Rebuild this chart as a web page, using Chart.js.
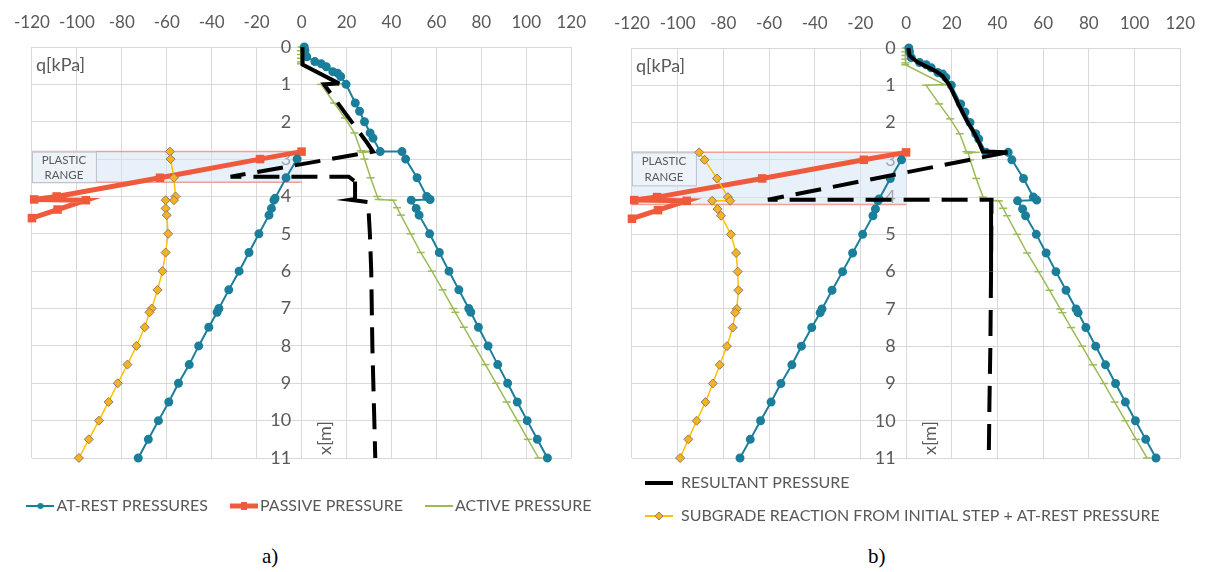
<!DOCTYPE html>
<html>
<head>
<meta charset="utf-8">
<script src="https://cdn.jsdelivr.net/npm/chart.js@4.4.1/dist/chart.umd.min.js"></script>
<style>
  body { margin: 0; background: #fff; width: 1209px; height: 572px; position: relative; overflow: hidden; }
  #wrapA { position: absolute; left: 0; top: 0; width: 600px; height: 540px; }
  #wrapB { position: absolute; left: 600px; top: 0; width: 609px; height: 540px; }
  .cap { position: absolute; top: 544px; font-family: "Liberation Serif", serif; font-size: 21px; color: #000; }
</style>
</head>
<body>
<div id="wrapA"><canvas id="chartA"></canvas></div>
<div id="wrapB"><canvas id="chartB"></canvas></div>
<div class="cap" style="left:262px">a)</div>
<div class="cap" style="left:868px">b)</div>
<script>
// depth x[m] and pressure q[kPa]
var atRestDepth = [0, 0.1, 0.26, 0.39, 0.45, 0.53, 0.66, 0.7, 0.79, 1.0, 1.5, 1.72, 2.0, 2.3, 2.44, 2.8, 2.8, 3.0, 3.5, 4.0, 4.08, 4.1, 4.32, 4.5, 5.0, 5.5, 6.0, 6.5, 7.0, 7.1, 7.5, 8.0, 8.5, 9.0, 9.5, 10.0, 10.5, 11.0];
var atRestQ = [1.2, 1.5, 2.3, 5.9, 8.8, 11, 13.9, 16, 17.4, 19.8, 23.9, 25.8, 28, 30.5, 31.8, 35, 44.7, 46.3, 51.4, 55.7, 57.2, 48.8, 51, 52.3, 57, 61.3, 65.6, 70, 74.4, 75.3, 78.7, 83, 87.3, 91.7, 96, 100.4, 104.9, 109.4];

var atRestLeftDepth = [3.0, 3.5, 4.05, 4.1, 4.32, 4.5, 5.0, 5.5, 6.0, 6.5, 7.0, 7.1, 7.5, 8.0, 8.5, 9.0, 9.5, 10.0, 10.5, 11.0];
var atRestLeftQ = [-2, -6.9, -11.8, -12.3, -13.4, -14.5, -19, -23.4, -27.8, -32.4, -36.8, -37.6, -41.3, -45.8, -50, -54.8, -59.1, -63.7, -68.2, -72.7];

var activeDepth = [0, 0.1, 0.2, 0.3, 0.4, 0.45, 0.98, 1.0, 1.5, 1.9, 2.3, 2.78, 2.8, 2.82, 3.0, 3.5, 4.0, 4.08, 4.1, 4.3, 4.5, 5.0, 5.5, 6.0, 6.5, 7.0, 7.1, 7.5, 8.0, 8.5, 9.0, 9.5, 10.0, 10.5, 11.0];
var activeQ = [0, -0.3, -0.3, -0.3, -0.3, -0.3, 16.8, 8.7, 14.5, 19.3, 23.5, 26.4, 30.5, 27.2, 28, 30.7, 33.7, 34.3, 40.6, 42.5, 44.2, 48.6, 53, 58, 62.8, 67.5, 68.4, 72.2, 77, 81.8, 86.6, 91.3, 96, 100.7, 105.5];

var passiveDepth = [2.8, 3.0, 3.5, 4.0, 4.08, 4.1, 4.35, 4.58];
var passiveQ = [0, -18.5, -63, -109, -119, -96, -108.6, -120];

var resultantADepth = [0, 0.47, 0.98, 1.0, 2.55, 2.8, 3.47, 3.47, 3.6, 4.07, 4.09, 4.15, 5.0, 6.0, 8.0, 9.6, 11.0];
var resultantAQ = [0.4, 0.4, 16.8, 10, 29, 31.8, -31.6, 21, 23.8, 23.8, 21.7, 29.6, 30.4, 31, 31.5, 32.2, 32.8];

var resultantBDepth = [0, 0.2, 0.38, 0.5, 0.62, 0.75, 1.0, 1.5, 1.93, 2.3, 2.55, 2.78, 2.8, 4.07, 4.07, 6.0, 8.0, 9.5, 11.0];
var resultantBQ = [1, 1.5, 5, 9, 13, 16, 19, 22.8, 26.4, 30, 32, 33.6, 44.4, -60.5, 37.4, 37.2, 36.9, 36.5, 36.2];

var subgradeDepth = [2.8, 3.0, 3.5, 4.0, 4.1, 4.1, 4.32, 4.5, 5.0, 5.5, 6.0, 6.5, 7.0, 7.1, 7.5, 8.0, 8.5, 9.0, 9.5, 10.0, 10.5, 11.0];
var subgradeAQ = [-58.6, -58.3, -56.8, -56.1, -56.8, -60.5, -60.5, -60, -59.4, -60.5, -61.9, -64.1, -66.7, -67.7, -69.8, -73.5, -77.5, -81.8, -85.9, -90.2, -94.7, -99.1];
var subgradeBQ = [-90.6, -88.2, -82.8, -78, -77, -84.9, -82.5, -81, -76.7, -74.4, -73.7, -73.4, -74.1, -74.8, -75.9, -78.4, -81.6, -84.6, -87.8, -91.7, -95.3, -98.9];

// plastic range (depth from / to) for each panel
var plasticA = [2.8, 3.62];
var plasticB = [2.8, 4.2];

var qTicks = [-120, 120, 20];
var depthTicks = [0, 11, 1];

var TEAL = '#1b7f9b', GREEN = '#9bbb59', RED = '#f05a3c', GOLD = '#ffc000', GREY = '#595959';

Chart.defaults.font.family = 'Lato, "Open Sans", sans-serif';

function pts(q, d) {
    return q.map(function (v, i) { return { x: v, y: d[i] }; });
}

// little legend samples: line + marker, like the spreadsheet legend
function sample(color, lw, marker) {
    var c = document.createElement('canvas');
    c.width = 28; c.height = 12;
    var g = c.getContext('2d');
    g.strokeStyle = color; g.lineWidth = lw;
    g.beginPath(); g.moveTo(0, 6); g.lineTo(28, 6); g.stroke();
    if (marker == 'circle') {
        g.fillStyle = color; g.beginPath(); g.arc(14, 6, 3, 0, Math.PI * 2); g.fill();
    } else if (marker == 'diamond') {
        g.fillStyle = '#f5b324'; g.strokeStyle = '#8c7b6b'; g.lineWidth = 1;
        g.beginPath(); g.moveTo(14, 2); g.lineTo(18, 6); g.lineTo(14, 10); g.lineTo(10, 6); g.closePath();
        g.fill(); g.stroke();
    } else if (marker == 'rect') {
        g.fillStyle = color; g.fillRect(11, 2, 6, 8);
    }
    return c;
}

var samples = {
    'AT-REST PRESSURES': sample(TEAL, 2, 'circle'),
    'PASSIVE PRESSURE': sample(RED, 5, 'rect'),
    'ACTIVE PRESSURE': sample(GREEN, 2),
    'RESULTANT PRESSURE': sample('#000', 4),
    'SUBGRADE REACTION FROM INITIAL STEP + AT-REST PRESSURE': sample(GOLD, 2, 'diamond')
};

function makeDatasets(resQ, resD, solidUpTo, subQ) {
    return [
        { label: 'AT-REST PRESSURES', data: pts(atRestQ, atRestDepth), borderColor: TEAL, backgroundColor: TEAL,
          borderWidth: 2, pointStyle: 'circle', pointRadius: 3.5, order: 3 },
        { label: 'at-rest (left)', data: pts(atRestLeftQ, atRestLeftDepth), borderColor: TEAL, backgroundColor: TEAL,
          borderWidth: 2, pointStyle: 'circle', pointRadius: 3.5, order: 3 },
        { label: 'PASSIVE PRESSURE', data: pts(passiveQ, passiveDepth), borderColor: RED, backgroundColor: RED,
          borderWidth: 5, pointStyle: 'rect', pointRadius: 2.5, order: 5 },
        { label: 'ACTIVE PRESSURE', data: pts(activeQ, activeDepth), borderColor: GREEN, backgroundColor: GREEN,
          borderWidth: 1.5, pointStyle: 'line', pointRadius: 4, pointBorderWidth: 1.5, order: 4 },
        { label: 'RESULTANT PRESSURE', data: pts(resQ, resD), borderColor: '#000', backgroundColor: '#000',
          borderWidth: 4, pointRadius: 0, order: 1,
          segment: { borderDash: function (c) { return c.p0DataIndex < solidUpTo ? [] : [26, 12]; } } },
        { label: 'SUBGRADE REACTION FROM INITIAL STEP + AT-REST PRESSURE', data: pts(subQ, subgradeDepth),
          borderColor: GOLD, backgroundColor: GOLD, borderWidth: 1.5, pointStyle: 'rectRot', pointRadius: 4.5,
          pointBackgroundColor: '#f5b324', pointBorderColor: '#8c7b6b', pointBorderWidth: 1, order: 2 }
    ];
}

// plastic range band, its label box and the axis captions
var extras = {
    id: 'extras',
    beforeDatasetsDraw: function (chart, args, o) {
        var ctx = chart.ctx, x = chart.scales.x, y = chart.scales.y;
        var x0 = x.getPixelForValue(qTicks[0]), x1 = x.getPixelForValue(0);
        var y0 = y.getPixelForValue(o.band[0]), y1 = y.getPixelForValue(o.band[1]);
        ctx.save();
        ctx.fillStyle = 'rgba(214,230,245,0.55)';
        ctx.fillRect(x0, y0, x1 - x0, y1 - y0);
        ctx.strokeStyle = '#f0a096'; ctx.lineWidth = 1.5;
        ctx.beginPath();
        ctx.moveTo(x0, y0); ctx.lineTo(x1, y0);
        ctx.moveTo(x0, y1); ctx.lineTo(x1, y1);
        ctx.stroke();
        var bh = Math.min(y1 - y0, 33);
        ctx.fillStyle = '#eef3f9'; ctx.strokeStyle = '#b8c4d0'; ctx.lineWidth = 1;
        ctx.fillRect(x0, y0, 64, bh);
        ctx.strokeRect(x0 + 0.5, y0 + 0.5, 64, bh);
        ctx.fillStyle = GREY; ctx.font = '11.5px Lato'; ctx.textAlign = 'center'; ctx.textBaseline = 'middle';
        ctx.fillText('PLASTIC', x0 + 32, y0 + bh * 0.27);
        ctx.fillText('RANGE', x0 + 32, y0 + bh * 0.77);
        ctx.textAlign = 'left';
        ctx.font = '18px Lato';
        ctx.fillText('q[kPa]', chart.chartArea.left + 4, y.getPixelForValue(0.5));
        ctx.translate(x.getPixelForValue(0) + 24, chart.chartArea.bottom - 20);
        ctx.rotate(-Math.PI / 2);
        ctx.textAlign = 'center';
        ctx.fillText('x[m]', 0, 0);
        ctx.restore();
    }
};

// let a one-row legend run wider than the plot area, as the spreadsheet does
var wideLegend = {
    id: 'wideLegend',
    beforeInit: function (chart) {
        var legend = chart.legend, fit = legend.fit, draw = legend.draw;
        legend.fit = function () {
            var mw = this.maxWidth;
            this.maxWidth = chart.width + 60;
            fit.call(this);
            this.maxWidth = mw;
            this.width = mw;
        };
        legend.draw = function () {
            var l = this.left, r = this.right;
            this.left = 0; this.right = chart.width + 24;
            draw.call(this);
            this.left = l; this.right = r;
        };
    }
};

function makeChart(id, o) {
    return new Chart(document.getElementById(id), {
        type: 'scatter',
        data: { datasets: makeDatasets(o.resQ, o.resD, o.solidUpTo, o.subQ) },
        plugins: o.wide ? [extras, wideLegend] : [extras],
        options: {
            responsive: true,
            maintainAspectRatio: false,
            animation: false,
            events: [],
            showLine: true,
            clip: false,
            layout: { padding: o.padding },
            elements: { line: { tension: 0 } },
            scales: {
                x: {
                    type: 'linear', position: 'top', min: qTicks[0], max: qTicks[1],
                    ticks: { stepSize: qTicks[2], color: GREY, font: { size: 17 }, padding: 14 },
                    grid: { color: '#d9d9d9', drawTicks: false },
                    border: { display: false },
                    afterFit: function (s) { s.height = o.top; }
                },
                y: {
                    type: 'linear', reverse: true, min: depthTicks[0], max: depthTicks[1], position: { x: -4.6 },
                    ticks: { stepSize: depthTicks[2], color: GREY, font: { size: 18 } },
                    grid: { color: '#d9d9d9', drawTicks: false },
                    border: { display: false }
                }
            },
            plugins: {
                tooltip: { enabled: false },
                extras: { band: o.band },
                legend: {
                    position: 'bottom',
                    align: o.align,
                    title: o.legendTitle,
                    labels: {
                        usePointStyle: true, pointStyleWidth: o.sampleWidth, padding: o.legendPad,
                        color: GREY, font: { size: 16 },
                        generateLabels: function (chart) {
                            return Chart.defaults.plugins.legend.labels.generateLabels(chart)
                                .filter(function (it) { return o.legend.indexOf(it.text) >= 0; })
                                .sort(function (a, b) { return o.legend.indexOf(a.text) - o.legend.indexOf(b.text); })
                                .map(function (it) { it.pointStyle = samples[it.text]; return it; });
                        }
                    }
                }
            }
        }
    });
}

makeChart('chartA', {
    resQ: resultantAQ, resD: resultantADepth, solidUpTo: 2, subQ: subgradeAQ, band: plasticA,
    padding: { left: 26, right: 18, top: 0, bottom: 16 }, top: 47,
    align: 'center', legendPad: 28, wide: true, sampleWidth: 16,
    legendTitle: { display: true, text: '', padding: 0, font: { size: 10 } },
    legend: ['AT-REST PRESSURES', 'PASSIVE PRESSURE', 'ACTIVE PRESSURE']
});

makeChart('chartB', {
    resQ: resultantBQ, resD: resultantBDepth, solidUpTo: 12, subQ: subgradeBQ, band: plasticB,
    padding: { left: 28, right: 26, top: 0, bottom: 6 }, top: 48,
    align: 'start', legendPad: 17, wide: false, sampleWidth: 28,
    legendTitle: { display: false },
    legend: ['RESULTANT PRESSURE', 'SUBGRADE REACTION FROM INITIAL STEP + AT-REST PRESSURE']
});
</script>
</body>
</html>
